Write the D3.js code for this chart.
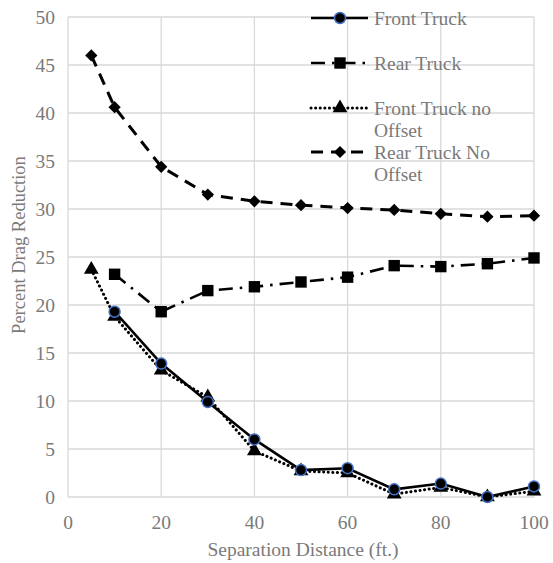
<!DOCTYPE html>
<html><head><meta charset="utf-8">
<script src="https://cdn.jsdelivr.net/npm/d3@7"></script>
<style>body{margin:0;background:#fff}svg{display:block}</style>
</head><body>
<script>
const frontX = [10,20,30,40,50,60,70,80,90,100];
const frontTruck = [19.3,13.9,9.9,6.0,2.8,3.0,0.8,1.4,0.0,1.1];
const rearX = [10,20,30,40,50,60,70,80,90,100];
const rearTruck = [23.2,19.3,21.5,21.9,22.4,22.9,24.1,24.0,24.3,24.9];
const noOffX = [5,10,20,30,40,50,60,70,80,90,100];
const frontNoOffset = [23.7,18.8,13.2,10.4,4.8,2.7,2.5,0.3,1.0,0.0,0.6];
const rearNoOffset = [46.0,40.6,34.4,31.5,30.8,30.4,30.1,29.9,29.5,29.2,29.3];
const xTicks = [0,20,40,60,80,100];
const yTicks = [0,5,10,15,20,25,30,35,40,45,50];

const FONT = "'Liberation Serif','Times New Roman','DejaVu Serif',serif";
const TXT = "#7a7a7a";
const W=553,H=563;
const svg=d3.select("body").append("svg").attr("width",W).attr("height",H);
const x=d3.scaleLinear().domain([0,100]).range([68,534]);
const y=d3.scaleLinear().domain([0,50]).range([497,17]);
const grid="#d9d9d9";

function txt(sel,size){return sel.attr("font-family",FONT).attr("fill",TXT).attr("font-size",size);}

// grid
svg.append("g").selectAll("line").data(yTicks).join("line")
 .attr("x1",x(0)).attr("x2",x(100)).attr("y1",d=>y(d)).attr("y2",d=>y(d))
 .attr("stroke",grid).attr("stroke-width",1.3);
svg.append("g").selectAll("line").data(xTicks).join("line")
 .attr("y1",y(0)).attr("y2",y(50)).attr("x1",d=>x(d)).attr("x2",d=>x(d))
 .attr("stroke",grid).attr("stroke-width",1.3);

// tick labels
txt(svg.append("g").selectAll("text").data(yTicks).join("text")
 .attr("x",55).attr("y",d=>y(d)+6.5).attr("text-anchor","end").text(d=>d),"19.5px");
txt(svg.append("g").selectAll("text").data(xTicks).join("text")
 .attr("x",d=>x(d)).attr("y",529).attr("text-anchor","middle").text(d=>d),"19.5px");

txt(svg.append("text").attr("x",(x(0)+x(100))/2+2).attr("y",556).attr("text-anchor","middle")
 .text("Separation Distance (ft.)"),"19.5px");
txt(svg.append("text").attr("transform","translate(25,245) rotate(-90)").attr("text-anchor","middle")
 .text("Percent Drag Reduction"),"18.5px");

const line=d3.line().x(d=>x(d[0])).y(d=>y(d[1]));
const styles=[
 {dash:null,width:2.6,cap:"butt"},
 {dash:"14,7,2.5,7",width:2.6,cap:"butt"},
 {dash:"0.1,4.5",width:3,cap:"round"},
 {dash:"12,8",width:3,cap:"butt"}
];
const data=[
 frontX.map((v,i)=>[v,frontTruck[i]]),
 rearX.map((v,i)=>[v,rearTruck[i]]),
 noOffX.map((v,i)=>[v,frontNoOffset[i]]),
 noOffX.map((v,i)=>[v,rearNoOffset[i]])
];
const symbols=[d3.symbolCircle,d3.symbolSquare,d3.symbolTriangle,d3.symbolSquare];
const sizes=[95,130,95,75];
function marker(g,i,cx,cy){
  const p=g.append("path").attr("d",d3.symbol().type(symbols[i]).size(sizes[i])())
   .attr("transform",`translate(${cx},${cy})`+(i===3?" rotate(45)":""))
   .attr("fill","#000");
  if(i===0) p.attr("stroke","#4472c4").attr("stroke-width",1.5);
}
[3,1,2,0].forEach(i=>{
  const s=styles[i];
  svg.append("path").datum(data[i]).attr("d",line).attr("fill","none")
   .attr("stroke","#000").attr("stroke-width",s.width).attr("stroke-linecap",s.cap)
   .attr("stroke-dasharray",s.dash);
  const g=svg.append("g");
  data[i].forEach(d=>marker(g,i,x(d[0]),y(d[1])));
});

// legend
const leg=[{y:18,lines:["Front Truck"]},{y:63,lines:["Rear Truck"]},{y:108,lines:["Front Truck no","Offset"]},{y:152,lines:["Rear Truck No","Offset"]}];
leg.forEach((l,i)=>{
  const s=styles[i];
  const g=svg.append("g");
  g.append("line").attr("x1",311).attr("x2",368).attr("y1",l.y).attr("y2",l.y)
   .attr("stroke","#000").attr("stroke-width",s.width).attr("stroke-linecap",s.cap)
   .attr("stroke-dasharray",s.dash);
  marker(g,i,340,l.y);
  l.lines.forEach((t,k)=>{
    txt(g.append("text").attr("x",374).attr("y",l.y+6.5+k*22).text(t),"19.5px");
  });
});
</script>
</body></html>
